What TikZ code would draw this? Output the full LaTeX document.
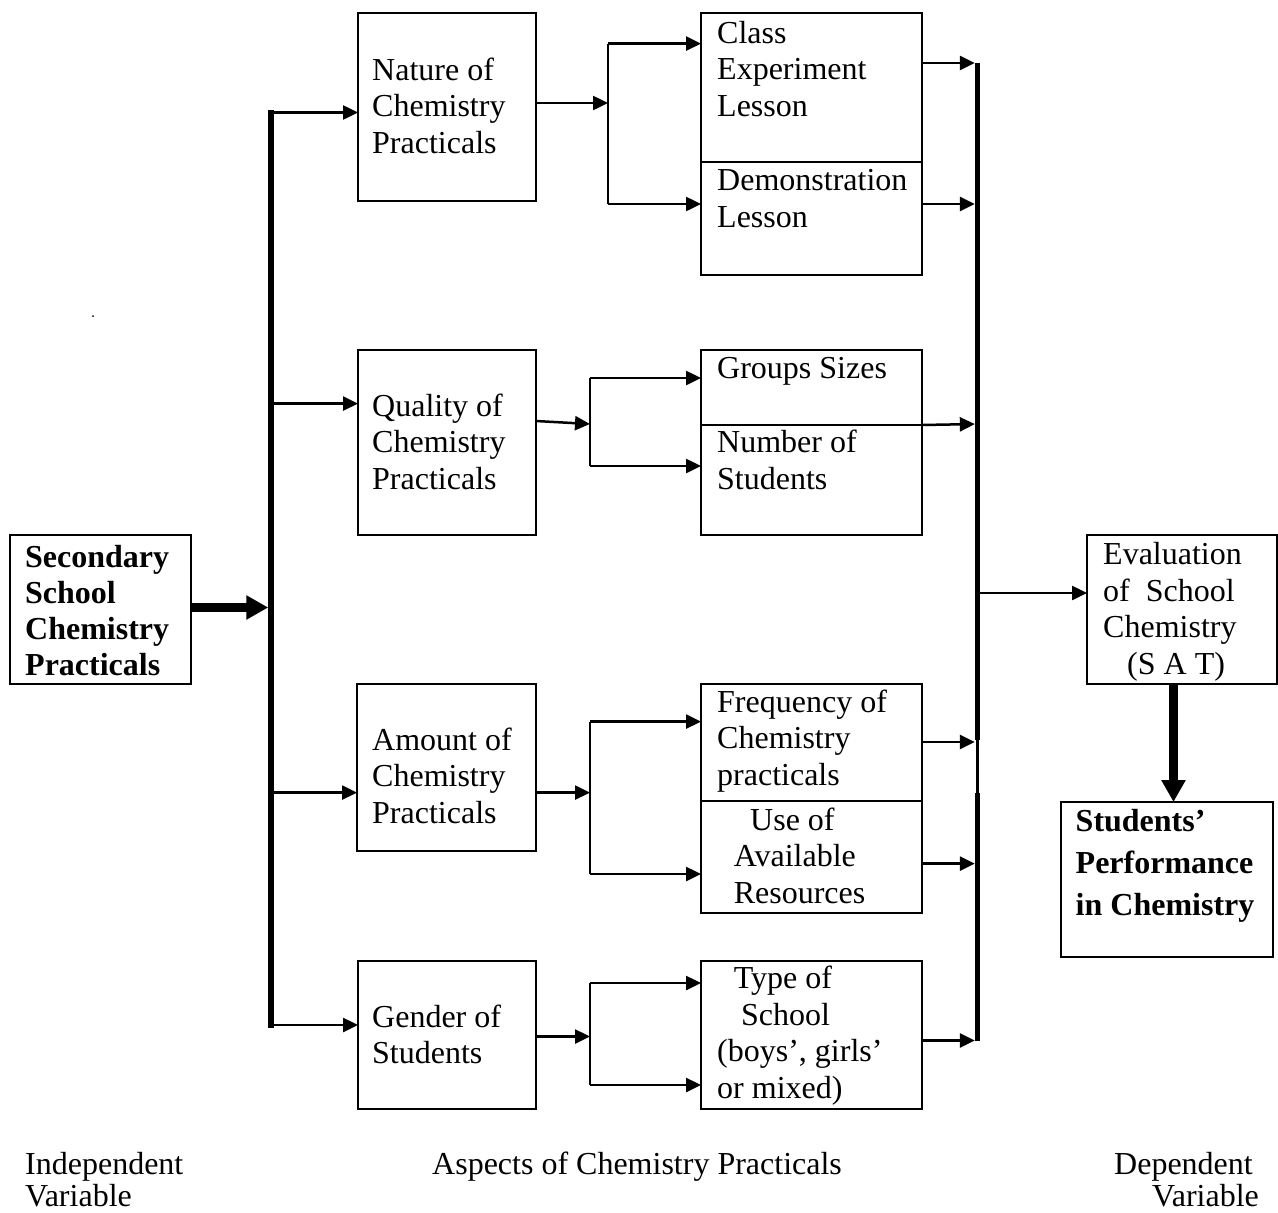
\documentclass[tikz,border=0pt]{standalone}
\usepackage{fontspec}
\setmainfont{Liberation Serif}
\usetikzlibrary{arrows.meta}
\begin{document}
\begin{tikzpicture}[x=1pt,y=-1pt,
  box/.style={draw,line width=2.5pt,inner sep=0pt,outer sep=0pt,anchor=north west},
  lbl/.style={anchor=base west,inner sep=0pt,align=left,font=\fontsize{32}{36.5}\selectfont},
  blbl/.style={anchor=base west,inner sep=0pt,align=left,font=\fontsize{32}{36}\selectfont\bfseries},
  conn/.style={line width=2.5pt},
  arr/.style={conn,-{Triangle[length=15pt,width=14pt]}},
  trunk/.style={line width=5.5pt},
  bigarr/.style={line width=9pt,-{Triangle[length=22pt,width=23pt]}}
]
\useasboundingbox (0,0) rectangle (1278,1213);

% ---------- boxes ----------
\node[box,minimum width=181pt,minimum height=149pt] (sec) at (10,535) {};
\node[box,minimum width=178pt,minimum height=188pt] (nature) at (358,13) {};
\node[box,minimum width=178pt,minimum height=185pt] (quality) at (358,350) {};
\node[box,minimum width=179pt,minimum height=167pt] (amount) at (357,684) {};
\node[box,minimum width=178pt,minimum height=148pt] (gender) at (358,961) {};

\node[box,minimum width=221pt,minimum height=149pt] (class) at (701,13) {};
\node[box,minimum width=221pt,minimum height=113pt] (demo) at (701,162) {};
\node[box,minimum width=221pt,minimum height=75pt] (groups) at (701,350) {};
\node[box,minimum width=221pt,minimum height=110pt] (number) at (701,425) {};
\node[box,minimum width=221pt,minimum height=117pt] (freq) at (701,684) {};
\node[box,minimum width=221pt,minimum height=112pt] (use) at (701,801) {};
\node[box,minimum width=221pt,minimum height=148pt] (type) at (701,961) {};

\node[box,minimum width=190pt,minimum height=149pt] (eval) at (1087,535) {};
\node[box,minimum width=212pt,minimum height=155pt] (stud) at (1061,802) {};

% ---------- texts (anchored at the baseline of the last line) ----------
\node[blbl] (tsec) at (25,675) {Secondary\\School\\Chemistry\\Practicals};
\node[lbl] (tnature) at (372,153) {Nature of\\Chemistry\\Practicals};
\node[lbl] (tquality) at (372,489) {Quality of\\Chemistry\\Practicals};
\node[lbl] (tamount) at (372,823) {Amount of\\Chemistry\\Practicals};
\node[lbl] (tgender) at (372,1063.5) {Gender of\\Students};

\node[lbl] (tclass) at (717,116) {Class\\Experiment\\Lesson};
\node[lbl] (tdemo) at (717,227) {Demonstration\\Lesson};
\node[lbl] (tgroups) at (717,378.6) {Groups Sizes};
\node[lbl] (tnumber) at (717,489) {Number of\\Students};
\node[lbl] (tfreq) at (717,785) {Frequency of\\Chemistry\\practicals};
\node[lbl] (tuse) at (733.6,903) {\hspace*{16.4pt}Use of\\Available\\Resources};
\node[lbl] (ttype) at (717,1098) {\hspace*{16.6pt}Type of\\\hspace*{24pt}School\\(boys’, girls’\\or mixed)};

\node[lbl] (teval) at (1103,674) {Evaluation\\of~ School\\Chemistry\\\hspace*{24pt}(S A T)};
\node[blbl,font=\fontsize{32}{42}\selectfont\bfseries] (tstud) at (1075.5,915.5) {Students’\\Performance\\in Chemistry};

\node[lbl] (tind1) at (25,1174.6) {Independent};
\node[lbl] (tind2) at (25,1206) {Variable};
\node[lbl] (tasp) at (432,1174.6) {Aspects of Chemistry Practicals};
\node[lbl] (tdep1) at (1114,1174.6) {Dependent};
\node[lbl] (tdep2) at (1152,1206) {Variable};

\fill (93,316) circle (1pt);

% ---------- left trunk ----------
\coordinate (L1) at (271,112.5);
\coordinate (L2) at (271,403.6);
\coordinate (L3) at (271,792.6);
\coordinate (L4) at (271,1025);
\draw[trunk] (271,110) -- (271,1027.5);
\draw[bigarr] (sec.east |- 0,607.5) -- ([xshift=-2.75pt]L1 |- 0,607.5);
\draw[arr] (L1) -- (L1 -| nature.west);
\draw[arr] (L2) -- (L2 -| quality.west);
\draw[arr] (L3) -- (L3 -| amount.west);
\draw[arr] (L4) -- (L4 -| gender.west);

% ---------- branches ----------
\coordinate (N0) at (608,103);
\coordinate (N1) at (608,43.6);
\coordinate (N2) at (608,204);
\draw[arr] (nature.east |- N0) -- (N0);
\draw[conn] (N1) -- (N2);
\draw[arr] (N1) -- (N1 -| class.west);
\draw[arr] (N2) -- (N2 -| demo.west);

\coordinate (Q0) at (590,424);
\coordinate (Q1) at (590,378);
\coordinate (Q2) at (590,466);
\draw[arr] (536,421) -- (Q0);
\draw[conn] (Q1) -- (Q2);
\draw[arr] (Q1) -- (Q1 -| groups.west);
\draw[arr] (Q2) -- (Q2 -| number.west);

\coordinate (A0) at (590,792.6);
\coordinate (A1) at (590,721.6);
\coordinate (A2) at (590,874);
\draw[arr] (amount.east |- A0) -- (A0);
\draw[conn] (A1) -- (A2);
\draw[arr] (A1) -- (A1 -| freq.west);
\draw[arr] (A2) -- (A2 -| use.west);

\coordinate (G0) at (590,1036.5);
\coordinate (G1) at (590,983);
\coordinate (G2) at (590,1085);
\draw[arr] (gender.east |- G0) -- (G0);
\draw[conn] (G1) -- (G2);
\draw[arr] (G1) -- (G1 -| type.west);
\draw[arr] (G2) -- (G2 -| type.west);

% ---------- right trunk ----------
\coordinate (R1) at (977.6,63);
\coordinate (R2) at (977.6,204);
\coordinate (R3) at (977.6,424);
\coordinate (R4) at (977.6,742);
\coordinate (R5) at (977.6,863.6);
\coordinate (R6) at (977.6,1040.5);
\coordinate (RM1) at (977.6,740);
\coordinate (RM2) at (977.6,793);
\coordinate (RE) at (977.6,593);
\draw[trunk] (R1) -- (RM1);
\draw[conn] (RM1) -- (RM2);
\draw[trunk] (RM2) -- (R6);
\draw[arr,shorten >=2.75pt] (class.east |- R1) -- (R1);
\draw[arr,shorten >=2.75pt] (demo.east |- R2) -- (R2);
\draw[arr,shorten >=2.75pt] (number.north east) -- (R3);
\draw[arr,shorten >=2.75pt] (freq.east |- R4) -- (R4);
\draw[arr,shorten >=2.75pt] (use.east |- R5) -- (R5);
\draw[arr,shorten >=2.75pt] (type.east |- R6) -- (R6);

\draw[arr] (RE) -- (RE -| eval.west);
\draw[bigarr] (eval.south -| 1173.5,0) -- (stud.north -| 1173.5,0);
\end{tikzpicture}
\end{document}
